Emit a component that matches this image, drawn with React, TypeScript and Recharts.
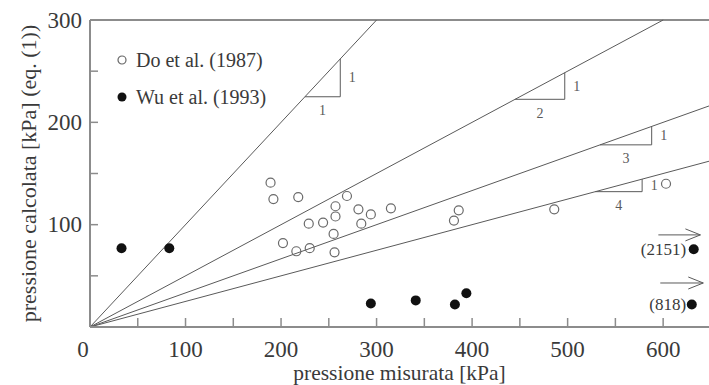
import {
  ComposedChart,
  Legend,
  ReferenceLine,
  Scatter,
  XAxis,
  YAxis,
} from "recharts";

const X_MAX = 648;
const Y_MAX = 300;
const X_TICKS = [0, 50, 100, 150, 200, 250, 300, 350, 400, 450, 500, 550, 600];
const Y_TICKS = [0, 50, 100, 150, 200, 250, 300];

// Do et al. (1987) - open circles
const doEtAl = [
  { x: 189, y: 141 },
  { x: 192, y: 125 },
  { x: 218, y: 127 },
  { x: 229, y: 101 },
  { x: 244, y: 102 },
  { x: 202, y: 82 },
  { x: 216, y: 74 },
  { x: 230, y: 77 },
  { x: 269, y: 128 },
  { x: 257, y: 118 },
  { x: 257, y: 108 },
  { x: 281, y: 115 },
  { x: 294, y: 110 },
  { x: 315, y: 116 },
  { x: 284, y: 101 },
  { x: 255, y: 91 },
  { x: 256, y: 73 },
  { x: 386, y: 114 },
  { x: 381, y: 104 },
  { x: 486, y: 115 },
  { x: 603, y: 140 },
];

// Wu et al. (1993) - filled circles
const wuEtAl = [
  { x: 33, y: 77 },
  { x: 83, y: 77 },
  { x: 294, y: 23 },
  { x: 341, y: 26 },
  { x: 382, y: 22 },
  { x: 394, y: 33 },
  { x: 632, y: 76 },
  { x: 630, y: 22 },
];

// off-scale values, written next to the last two points
const offScale = [
  { x: 624, y: 76, text: "(2151)" },
  { x: 624, y: 22, text: "(818)" },
];
const arrows = [
  { x0: 595, x1: 639, y: 90 },
  { x0: 597, x1: 642, y: 43 },
];

const slopes = [1, 1 / 2, 1 / 3, 1 / 4];
const triangles = [
  { slope: 1, x0: 225, x1: 262, run: "1" },
  { slope: 1 / 2, x0: 445, x1: 497, run: "2" },
  { slope: 1 / 3, x0: 534, x1: 588, run: "3" },
  { slope: 1 / 4, x0: 529, x1: 578, run: "4" },
];

const FONT = "'Liberation Serif', 'Times New Roman', serif";
const AXIS = "#8c8c8c";
const LINE = "#5a5a5a";
const TEXT = "#3a3a3a";
const TICK_MARGIN = 10;

const runLabels = triangles.map((t) => ({
  x: (t.x0 + t.x1) / 2,
  y: t.slope * t.x0,
  text: t.run,
}));
const riseLabels = triangles.map((t) => ({
  x: t.x1,
  y: (t.slope * t.x0 + t.slope * t.x1) / 2,
  text: "1",
}));

const textStyle = (size: number, color = TEXT) => ({
  fontFamily: FONT,
  fontSize: size,
  fill: color,
});

function XTick({ x, y, payload }: any) {
  const v = payload.value as number;
  const axisY = y - TICK_MARGIN;
  return (
    <g>
      {v > 0 && (
        <line x1={x} x2={x} y1={axisY} y2={axisY - 9} stroke={AXIS} strokeWidth={1.5} />
      )}
      {v % 100 === 0 && (
        <text
          x={v === 0 ? x - 7 : x}
          y={axisY + 22}
          textAnchor="middle"
          dominantBaseline="central"
          style={textStyle(23)}
        >
          {v}
        </text>
      )}
    </g>
  );
}

function YTick({ x, y, payload }: any) {
  const v = payload.value as number;
  const axisX = x + TICK_MARGIN;
  return (
    <g>
      {v > 0 && v < Y_MAX && (
        <line x1={axisX} x2={axisX + 8} y1={y} y2={y} stroke={AXIS} strokeWidth={1.5} />
      )}
      {v > 0 && v % 100 === 0 && (
        <text x={x + 2} y={y} textAnchor="end" dominantBaseline="central" style={textStyle(23)}>
          {v}
        </text>
      )}
    </g>
  );
}

function LegendBox() {
  const items = [
    { label: "Do et al. (1987)", filled: false },
    { label: "Wu et al. (1993)", filled: true },
  ];
  return (
    <div style={{ fontFamily: FONT, fontSize: 20, color: TEXT, lineHeight: "20px" }}>
      {items.map((it) => (
        <div key={it.label} style={{ display: "flex", alignItems: "center", height: 37 }}>
          <svg width={12} height={12}>
            {it.filled ? (
              <circle cx={6} cy={6} r={4.5} fill="#111" />
            ) : (
              <circle cx={6} cy={6} r={4} fill="none" stroke="#666" strokeWidth={1.2} />
            )}
          </svg>
          <span style={{ marginLeft: 8, fontFamily: FONT }}>{it.label}</span>
        </div>
      ))}
    </div>
  );
}

export default function App() {
  return (
    <div style={{ position: "absolute", left: 0, top: 0, width: 709, height: 385, background: "#fff" }}>
      <ComposedChart
        width={709}
        height={385}
        margin={{ top: 20, right: 0, bottom: 0, left: 0 }}
      >
        <XAxis
          type="number"
          dataKey="x"
          domain={[0, X_MAX]}
          ticks={X_TICKS}
          interval={0}
          height={58}
          tickSize={0}
          tickMargin={TICK_MARGIN}
          tickLine={false}
          tick={<XTick />}
          axisLine={{ stroke: AXIS, strokeWidth: 2 }}
          allowDataOverflow
          label={{
            value: "pressione misurata [kPa]",
            position: "insideBottom",
            offset: 5,
            style: textStyle(21.5),
          }}
        />
        <YAxis
          type="number"
          dataKey="y"
          domain={[0, Y_MAX]}
          ticks={Y_TICKS}
          interval={0}
          width={90}
          tickSize={0}
          tickMargin={TICK_MARGIN}
          tickLine={false}
          tick={<YTick />}
          axisLine={{ stroke: AXIS, strokeWidth: 2 }}
          allowDataOverflow
          label={{
            value: "pressione calcolata [kPa] (eq. (1))",
            angle: -90,
            position: "center",
            dx: -17,
            style: { ...textStyle(22), textAnchor: "middle" },
          }}
        />
        <ReferenceLine y={Y_MAX} stroke={AXIS} strokeWidth={2} />

        {slopes.map((s) => {
          const xEnd = Math.min(X_MAX, Y_MAX / s);
          return (
            <ReferenceLine
              key={`l${s}`}
              segment={[
                { x: 0, y: 0 },
                { x: xEnd, y: s * xEnd },
              ]}
              stroke={LINE}
              strokeWidth={1}
              ifOverflow="visible"
            />
          );
        })}
        {triangles.map((t) => (
          <ReferenceLine
            key={`h${t.run}`}
            segment={[
              { x: t.x0, y: t.slope * t.x0 },
              { x: t.x1, y: t.slope * t.x0 },
            ]}
            stroke={LINE}
            strokeWidth={1}
            ifOverflow="visible"
          />
        ))}
        {triangles.map((t) => (
          <ReferenceLine
            key={`v${t.run}`}
            segment={[
              { x: t.x1, y: t.slope * t.x0 },
              { x: t.x1, y: t.slope * t.x1 },
            ]}
            stroke={LINE}
            strokeWidth={1}
            ifOverflow="visible"
          />
        ))}
        {arrows.map((a) => (
          <ReferenceLine
            key={`a${a.y}`}
            segment={[
              { x: a.x0, y: a.y },
              { x: a.x1, y: a.y },
            ]}
            stroke={LINE}
            strokeWidth={1}
            ifOverflow="visible"
          />
        ))}

        <Scatter
          data={arrows.map((a) => ({ x: a.x1, y: a.y }))}
          isAnimationActive={false}
          shape={(p: any) => (
            <polyline
              points={`${p.cx - 15},${p.cy - 6} ${p.cx},${p.cy} ${p.cx - 15},${p.cy + 6}`}
              fill="none"
              stroke={LINE}
              strokeWidth={1}
            />
          )}
        />
        <Scatter
          data={runLabels}
          isAnimationActive={false}
          shape={(p: any) => (
            <text x={p.cx} y={p.cy + 14} textAnchor="middle" dominantBaseline="central" style={textStyle(14, LINE)}>
              {p.payload.text}
            </text>
          )}
        />
        <Scatter
          data={riseLabels}
          isAnimationActive={false}
          shape={(p: any) => (
            <text x={p.cx + 12} y={p.cy} textAnchor="middle" dominantBaseline="central" style={textStyle(14, LINE)}>
              {p.payload.text}
            </text>
          )}
        />
        <Scatter
          data={offScale}
          isAnimationActive={false}
          shape={(p: any) => (
            <text x={p.cx} y={p.cy} textAnchor="end" dominantBaseline="central" style={textStyle(17)}>
              {p.payload.text}
            </text>
          )}
        />

        <Scatter
          name="Do et al. (1987)"
          data={doEtAl}
          isAnimationActive={false}
          shape={(p: any) => (
            <circle cx={p.cx} cy={p.cy} r={4.5} fill="none" stroke="#6a6a6a" strokeWidth={1.2} />
          )}
        />
        <Scatter
          name="Wu et al. (1993)"
          data={wuEtAl}
          isAnimationActive={false}
          shape={(p: any) => <circle cx={p.cx} cy={p.cy} r={5} fill="#111" />}
        />

        <Legend
          layout="vertical"
          align="center"
          verticalAlign="middle"
          content={<LegendBox />}
          wrapperStyle={{ position: "absolute", left: 116, top: 41, width: 200, height: 80 }}
        />
      </ComposedChart>
    </div>
  );
}
